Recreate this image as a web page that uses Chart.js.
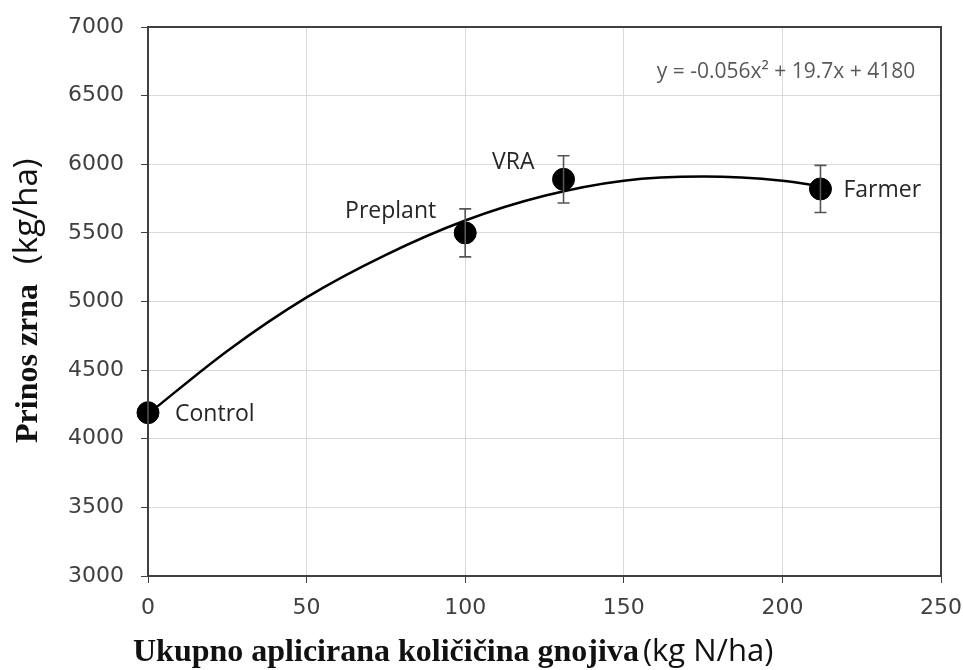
<!DOCTYPE html>
<html>
<head>
<meta charset="utf-8">
<script src="https://cdn.jsdelivr.net/npm/chart.js@4.4.0/dist/chart.umd.min.js"></script>
<style>
  html, body { margin: 0; padding: 0; background: #fff; }
  #wrap { width: 963px; height: 670px; position: relative; }
</style>
</head>
<body>
<div id="wrap"><canvas id="yieldChart"></canvas></div>
<script>
// ---- data ----
const treatments = ['Control', 'Preplant', 'VRA', 'Farmer'];
const nApplied = [0, 100, 131, 212];          // kg N/ha
const grainYield = [4190, 5500, 5890, 5820];  // kg/ha
const yieldErr = [0, 175, 172, 172];

// fitted quadratic trend
const trendX = [0, 25, 50, 75, 100, 125, 150, 175, 200, 212];
const trendY = [4180, 4640, 5030, 5340, 5590, 5770, 5880, 5910, 5880, 5840];

const xTicks = [0, 50, 100, 150, 200, 250];
const equationText = 'y = -0.056x\u00B2 + 19.7x + 4180';

// label placement per point: [dx, dy, align]
const labelPos = [
  [27, 2, 'left'],
  [-29, -21, 'right'],
  [-29, -17, 'right'],
  [23, 1, 'left'],
];

const errorBars = {
  id: 'errorBars',
  afterDatasetsDraw(chart) {
    const { ctx, scales: { x, y } } = chart;
    ctx.save();
    ctx.strokeStyle = '#555';
    ctx.lineWidth = 1.6;
    nApplied.forEach((n, i) => {
      if (!yieldErr[i]) return;
      const px = x.getPixelForValue(n);
      const top = y.getPixelForValue(grainYield[i] + yieldErr[i]);
      const bot = y.getPixelForValue(grainYield[i] - yieldErr[i]);
      ctx.beginPath();
      ctx.moveTo(px, top); ctx.lineTo(px, bot);
      ctx.moveTo(px - 6, top); ctx.lineTo(px + 6, top);
      ctx.moveTo(px - 6, bot); ctx.lineTo(px + 6, bot);
      ctx.stroke();
    });
    ctx.restore();
  },
};

const extras = {
  id: 'extras',
  afterDraw(chart) {
    const { ctx, chartArea: a, scales: { x, y } } = chart;
    ctx.save();

    // frame around plot
    ctx.strokeStyle = '#404040';
    ctx.lineWidth = 2;
    ctx.strokeRect(a.left, a.top, a.right - a.left, a.bottom - a.top);

    // point labels
    ctx.fillStyle = '#262626';
    ctx.font = '23px "Open Sans", sans-serif';
    ctx.textBaseline = 'middle';
    treatments.forEach((t, i) => {
      const [dx, dy, al] = labelPos[i];
      ctx.textAlign = al;
      ctx.fillText(t, x.getPixelForValue(nApplied[i]) + dx, y.getPixelForValue(grainYield[i]) + dy);
    });

    // equation
    ctx.fillStyle = '#595959';
    ctx.font = '21px "Open Sans", sans-serif';
    ctx.textAlign = 'center';
    ctx.fillText(equationText, 786, 72);

    // x axis title: serif bold + sans unit
    const serif = 'bold 32px "Liberation Serif", "DejaVu Serif", serif';
    const sans = '31px "Open Sans", sans-serif';
    const xMain = 'Ukupno aplicirana količičina gnojiva';
    const xUnit = '(kg N/ha)';
    ctx.fillStyle = '#111';
    ctx.textAlign = 'left';
    ctx.textBaseline = 'alphabetic';
    ctx.font = serif;
    const w1 = ctx.measureText(xMain).width;
    ctx.fillText(xMain, 133, 661);
    ctx.font = sans;
    ctx.fillText(xUnit, 133 + w1 + 4, 661);

    // y axis title, rotated
    const yMain = 'Prinos zrna';
    const yUnit = '(kg/ha)';
    ctx.translate(37, 443);
    ctx.rotate(-Math.PI / 2);
    ctx.font = serif;
    const h1 = ctx.measureText(yMain).width;
    ctx.fillText(yMain, 0, 0);
    ctx.font = '33px "Open Sans", sans-serif';
    ctx.fillText(yUnit, h1 + 20, 0);

    ctx.restore();
  },
};

new Chart(document.getElementById('yieldChart'), {
  type: 'scatter',
  data: {
    datasets: [
      {
        label: 'Trend',
        type: 'line',
        data: trendX.map((v, i) => ({ x: v, y: trendY[i] })),
        borderColor: '#000',
        borderWidth: 2.5,
        pointRadius: 0,
        cubicInterpolationMode: 'monotone',
        fill: false,
        order: 2,
      },
      {
        label: 'Treatments',
        data: nApplied.map((v, i) => ({ x: v, y: grainYield[i] })),
        backgroundColor: '#000',
        borderColor: '#000',
        pointRadius: 11,
        order: 1,
      },
    ],
  },
  options: {
    responsive: true,
    maintainAspectRatio: false,
    animation: false,
    clip: false,
    layout: { padding: { top: 27, right: 22, left: 0, bottom: 0 } },
    plugins: {
      legend: { display: false },
      tooltip: { enabled: false },
    },
    scales: {
      x: {
        type: 'linear',
        min: 0,
        max: 250,
        afterBuildTicks: s => { s.ticks = xTicks.map(v => ({ value: v })); },
        afterFit: s => { s.height = 94; s.paddingLeft = 0; s.paddingRight = 0; },
        grid: { color: '#d9d9d9', tickColor: '#404040', tickLength: 7, lineWidth: 1 },
        border: { color: '#404040', width: 2 },
        ticks: { color: '#404040', font: { family: 'DejaVu Sans', size: 22 }, padding: 12, callback: v => v },
      },
      y: {
        min: 3000,
        max: 7000,
        afterFit: s => { s.width = 148; s.paddingTop = 0; s.paddingBottom = 0; },
        grid: { color: '#d9d9d9', tickColor: '#404040', tickLength: 7, lineWidth: 1 },
        border: { color: '#404040', width: 2 },
        ticks: { stepSize: 500, color: '#404040', font: { family: 'DejaVu Sans', size: 22 }, padding: 17, callback: v => v },
      },
    },
  },
  plugins: [errorBars, extras],
});
</script>
</body>
</html>
